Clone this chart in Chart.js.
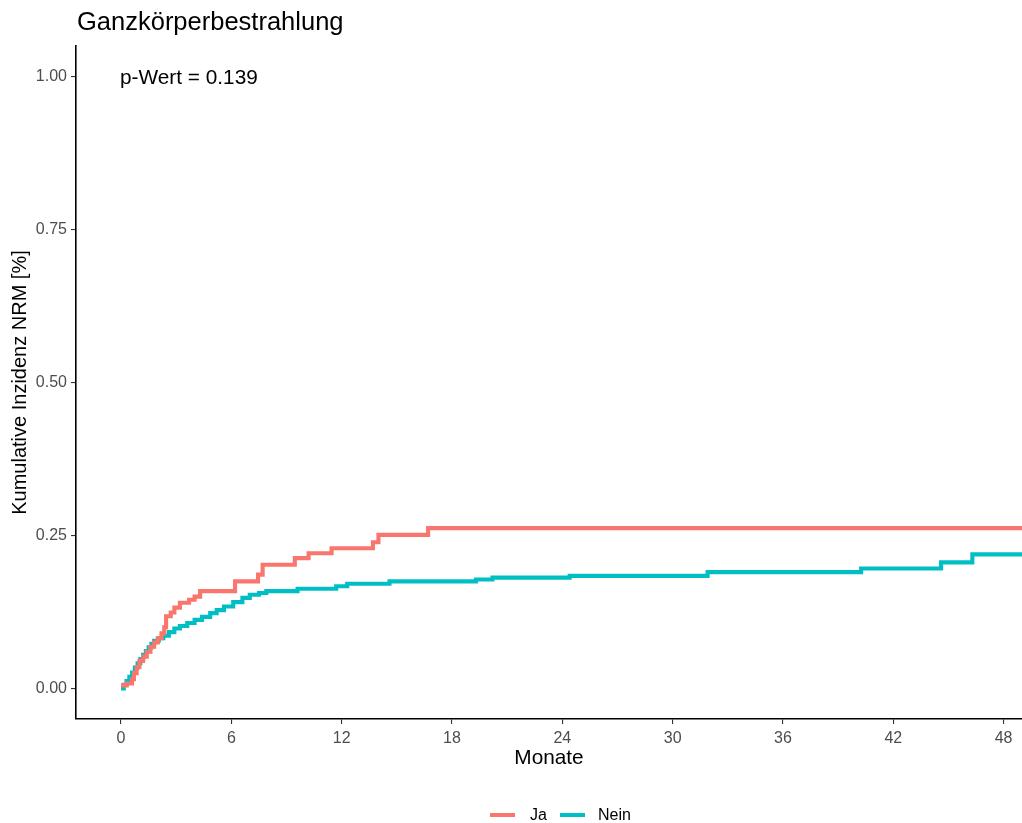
<!DOCTYPE html>
<html>
<head>
<meta charset="utf-8">
<script src="https://cdn.jsdelivr.net/npm/chart.js@4/dist/chart.umd.min.js"></script>
<style>
html,body{margin:0;padding:0;background:#fff;}
#wrap{width:1022px;height:823px;position:relative;}
</style>
</head>
<body>
<div id="wrap"><canvas id="c" width="1022" height="823"></canvas></div>
<script>
const chartTitle = "Ganzkörperbestrahlung";
const pValueText = "p-Wert = 0.139";
const xAxisTitle = "Monate";
const yAxisTitle = "Kumulative Inzidenz NRM [%]";
const seriesNames = ["Ja", "Nein"];
const xTicks = [0, 6, 12, 18, 24, 30, 36, 42, 48];
const yTicks = [0, 0.25, 0.5, 0.75, 1.0];

const jaMonths = [0, 0.3, 0.6, 0.7, 0.85, 1.0, 1.2, 1.4, 1.6, 1.8, 2.0, 2.2, 2.35, 2.45, 2.7, 2.9, 3.2, 3.7, 4.0, 4.3, 6.2, 7.45, 7.7, 9.45, 10.2, 11.45, 13.7, 14.0, 16.7, 49];
const jaValues = [0.005, 0.008, 0.015, 0.025, 0.035, 0.045, 0.052, 0.06, 0.068, 0.075, 0.082, 0.09, 0.1, 0.118, 0.124, 0.132, 0.14, 0.145, 0.15, 0.159, 0.175, 0.186, 0.202, 0.213, 0.221, 0.229, 0.239, 0.251, 0.262, 0.262];

const neinMonths = [0, 0.15, 0.3, 0.45, 0.6, 0.75, 0.9, 1.05, 1.2, 1.35, 1.5, 1.65, 1.8, 2.05, 2.3, 2.6, 2.9, 3.2, 3.6, 4.0, 4.4, 4.85, 5.2, 5.6, 6.1, 6.6, 7.0, 7.5, 7.9, 9.6, 11.7, 12.3, 14.6, 19.3, 20.2, 24.4, 31.9, 40.25, 44.6, 46.3, 49];
const neinValues = [0, 0.006, 0.012, 0.019, 0.026, 0.034, 0.041, 0.048, 0.055, 0.061, 0.067, 0.073, 0.078, 0.082, 0.086, 0.092, 0.098, 0.102, 0.107, 0.112, 0.117, 0.123, 0.128, 0.134, 0.141, 0.148, 0.153, 0.156, 0.159, 0.163, 0.167, 0.171, 0.175, 0.178, 0.181, 0.184, 0.19, 0.196, 0.206, 0.219, 0.219];

const colors = ["#F8766D", "#00BFC4"];
const FONT = "'Liberation Sans', Arial, sans-serif";

function toPoints(xs, ys){ return xs.map((x,i)=>({x:x, y:ys[i]})); }

const overlay = {
  id: 'overlay',
  afterDraw(chart){
    const ctx = chart.ctx;
    const xs = chart.scales.x, ys = chart.scales.y;
    ctx.save();
    ctx.fillStyle = '#000';
    ctx.font = "25.5px " + FONT;
    ctx.textAlign = 'left';
    ctx.textBaseline = 'middle';
    ctx.fillText(chartTitle, 77, 23);
    ctx.font = "20.8px " + FONT;
    ctx.fillText(pValueText, xs.getPixelForValue(0) - 1, ys.getPixelForValue(1.0) + 2);
    const ly = 815;
    const items = [{x:490, tx:530}, {x:560, tx:598}];
    ctx.font = "16px " + FONT;
    items.forEach((it, i) => {
      ctx.strokeStyle = colors[i];
      ctx.lineWidth = 4;
      ctx.beginPath();
      ctx.moveTo(it.x, ly);
      ctx.lineTo(it.x + 25, ly);
      ctx.stroke();
      ctx.fillStyle = '#000';
      ctx.fillText(seriesNames[i], it.tx, ly + 1);
    });
    ctx.restore();
  }
};

new Chart(document.getElementById('c'), {
  type: 'line',
  data: {
    datasets: [
      {label: seriesNames[0], data: toPoints(jaMonths, jaValues), borderColor: colors[0], backgroundColor: colors[0], borderWidth: 4.1, pointRadius: 0, stepped: 'before', fill: false},
      {label: seriesNames[1], data: toPoints(neinMonths, neinValues), borderColor: colors[1], backgroundColor: colors[1], borderWidth: 4.1, pointRadius: 0, stepped: 'before', fill: false}
    ]
  },
  options: {
    responsive: false,
    animation: false,
    layout: {padding: {top: 46, right: 0, bottom: 44, left: 0}},
    plugins: {legend: {display: false}, tooltip: {enabled: false}, title: {display: false}},
    scales: {
      x: {
        type: 'linear',
        min: -2.45, max: 49,
        afterBuildTicks: s => { s.ticks = xTicks.map(v => ({value: v})); },
        afterFit: s => { s.height = 60; },
        grid: {drawOnChartArea: false, drawTicks: true, tickLength: 5, color: '#333', lineWidth: 1.1},
        border: {display: true, color: '#000', width: 1.6},
        ticks: {color: '#4d4d4d', font: {family: FONT, size: 16}, padding: 5, maxRotation: 0, autoSkip: false},
        title: {display: true, text: xAxisTitle, color: '#000', font: {family: FONT, size: 20.8}, padding: {top: 0, bottom: 8}}
      },
      y: {
        type: 'linear',
        min: -0.05, max: 1.05,
        afterBuildTicks: s => { s.ticks = yTicks.map(v => ({value: v})); },
        afterFit: s => { s.width = 76; },
        grid: {drawOnChartArea: false, drawTicks: true, tickLength: 5, color: '#333', lineWidth: 1.1},
        border: {display: true, color: '#000', width: 1.6},
        ticks: {color: '#4d4d4d', font: {family: FONT, size: 16}, padding: 4, autoSkip: false, callback: v => Number(v).toFixed(2)},
        title: {display: true, text: yAxisTitle, color: '#000', font: {family: FONT, size: 20}, padding: {top: 8, bottom: 0}}
      }
    }
  },
  plugins: [overlay]
});
</script>
</body>
</html>
